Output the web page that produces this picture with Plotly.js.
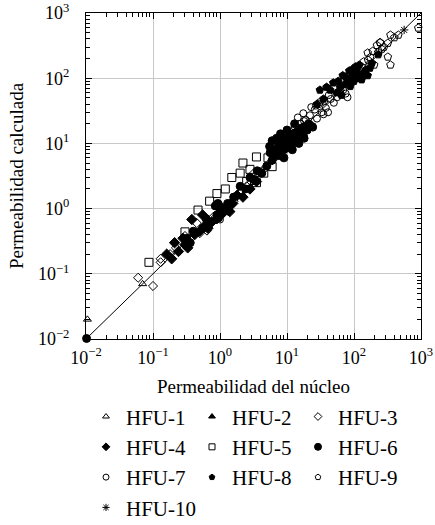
<!DOCTYPE html>
<html>
<head>
<meta charset="utf-8">
<script src="https://cdn.plot.ly/plotly-3.0.1.min.js"></script>
<style>html,body{margin:0;padding:0;background:#fff;}</style>
</head>
<body>
<div id="chart" style="width:435px;height:525px;"></div>
<script>
// ---- data ----
const tickVals = [0.01, 0.1, 1, 10, 100, 1000];
const tickText = ['10<sup>−2</sup>', '10<sup>−1</sup>', '10<sup>0</sup>', '10<sup>1</sup>', '10<sup>2</sup>', '10<sup>3</sup>'];
const minorTickVals = [0.02,0.03,0.04,0.05,0.06,0.07,0.08,0.09,
                       0.2,0.3,0.4,0.5,0.6,0.7,0.8,0.9,
                       2,3,4,5,6,7,8,9,
                       20,30,40,50,60,70,80,90,
                       200,300,400,500,600,700,800,900];
const xTitle = 'Permeabilidad del núcleo';
const yTitle = 'Permeabilidad calculada';
const lineX = [0.01, 1000];
const lineY = [0.01, 1000];

const seriesNames = ['HFU-1','HFU-2','HFU-3','HFU-4','HFU-5','HFU-6','HFU-7','HFU-8','HFU-9','HFU-10'];

const hfu1X = [0.0105, 0.07];
const hfu1Y = [0.02, 0.07];

const hfu2X = [6.5, 9, 12];
const hfu2Y = [7.5, 9.5, 11];

const hfu3X = [0.06, 0.1, 0.13, 0.13, 0.18, 0.22, 0.3, 0.45, 0.5, 0.64, 0.8, 1.2, 1.6, 2.5, 3.2, 4.5, 6];
const hfu3Y = [0.087, 0.065, 0.17, 0.15, 0.2, 0.25, 0.38, 0.6, 0.42, 0.46, 0.75, 1.0, 1.3, 2.2, 3.5, 4.0, 5.5];

const hfu4X = [0.16, 0.19, 0.21, 0.24, 0.28, 0.3, 0.33, 0.38, 0.42, 0.5, 0.55, 0.6, 0.66, 0.75, 0.9, 1.0, 1.1, 1.3, 1.4, 1.55, 1.8, 2.2, 2.8, 3.5];
const hfu4Y = [0.2, 0.17, 0.3, 0.22, 0.35, 0.28, 0.25, 0.68, 0.4, 0.45, 0.8, 0.55, 0.5, 0.62, 0.7, 1.1, 0.85, 0.95, 0.9, 1.2, 1.6, 1.5, 2.0, 2.6];

const hfu5X = [0.087, 0.3, 0.47, 0.7, 0.9, 1.2, 1.5, 2.0, 2.2, 2.5, 2.8, 3.3, 3.5, 3.5, 4.5, 5.2, 6];
const hfu5Y = [0.15, 0.44, 0.95, 1.3, 1.7, 2.0, 3.0, 3.5, 5.0, 2.6, 4.0, 2.7, 6.2, 2.5, 3.5, 6.0, 4.4];

const hfu6X = [0.0102, 0.32, 0.36, 0.4, 0.55, 0.62, 0.85, 0.9, 0.93, 0.95, 1.0, 1.05, 1.3, 1.6, 2.0, 2.4, 2.8, 3.2, 3.6, 4.2, 5.0, 5.5, 5.6, 6.0, 6.0, 6.5, 6.8, 7.0, 7.0, 7.5, 7.8, 8.0, 8.0, 8.5, 8.8, 9.0, 9.0, 9.5, 9.8, 10, 10, 10.5, 11, 11.5, 12, 12, 12.5, 13, 13, 13.5, 14, 15, 15, 15.5, 16, 17, 17.5, 18, 18, 19, 20, 21, 22, 24];
const hfu6Y = [0.0102, 0.35, 0.3, 0.45, 0.5, 0.7, 1.1, 0.8, 1.2, 0.72, 0.9, 1.0, 1.2, 1.5, 2.2, 2.0, 3.0, 2.8, 3.8, 3.5, 4.5, 9, 7.2, 5.5, 11, 8.0, 7.5, 6.5, 12, 9.5, 6.5, 7.0, 14, 10.5, 10, 8.0, 6, 12, 8.5, 9.5, 16, 11, 13, 12, 10, 8, 14, 12, 20, 11, 15, 13, 10, 14, 17, 15, 13, 18, 12, 17, 16, 20, 19, 18];

const hfu7X = [1.0, 9, 11, 12, 13, 14.5, 15, 16, 17.5, 18, 19, 20, 22, 23, 24.5, 26, 27, 28, 30, 31, 33, 35, 36, 38, 41, 42, 45, 50, 56, 60, 63, 69, 75, 80];
const hfu7Y = [0.68, 11, 14, 10, 18, 25, 15, 20, 29, 22, 23, 17, 27, 36, 17.5, 33, 38, 24, 40, 43, 30, 28, 45, 35, 30, 55, 48, 42, 51, 60, 66, 66, 58, 51];

const hfu8X = [28, 31, 35, 39, 44, 49, 55, 58, 62, 65, 68, 72, 75, 80, 85, 88, 90, 95, 98, 100, 105, 108, 110, 115, 120, 125, 130, 140, 150, 160, 173, 185, 230];
const hfu8Y = [40, 66, 48, 73, 66, 85, 60, 90, 73, 55, 110, 80, 105, 93, 130, 75, 100, 120, 140, 90, 150, 120, 134, 105, 160, 100, 95, 120, 134, 110, 143, 170, 230];

const hfu9X = [100, 120, 130, 140, 160, 162, 175, 190, 200, 220, 230, 245, 245, 260, 280, 320, 320, 350, 350, 400, 460, 910];
const hfu9Y = [110, 100, 150, 180, 245, 190, 210, 260, 160, 320, 250, 350, 355, 280, 300, 212, 345, 460, 160, 420, 460, 590];

const hfu10X = [560];
const hfu10Y = [550];

// ---- chart ----
const serif = 'Liberation Serif, Times New Roman, serif';
const xs = [hfu1X, hfu2X, hfu3X, hfu4X, hfu5X, hfu6X, hfu7X, hfu8X, hfu9X, hfu10X];
const ys = [hfu1Y, hfu2Y, hfu3Y, hfu4Y, hfu5Y, hfu6Y, hfu7Y, hfu8Y, hfu9Y, hfu10Y];
const symbols = ['triangle-up-open', 'triangle-up', 'diamond-open', 'diamond', 'square-open', 'circle', 'circle-open', 'pentagon', 'pentagon-open', 'asterisk-open'];
const sizes = [7, 7, 7, 8, 8, 8, 7, 8, 8, 7];
const legendSizes = [6, 6, 6, 6, 6, 7, 6, 6, 6, 6];

const traces = [];
seriesNames.forEach((name, i) => {
  traces.push({
    type: 'scatter', mode: 'markers', name: name, showlegend: false,
    x: xs[i], y: ys[i], cliponaxis: false,
    marker: {symbol: symbols[i], size: sizes[i], color: 'black', line: {color: 'black', width: 1}}
  });
});
// legend entries (smaller legend markers, as in the reference)
seriesNames.forEach((name, i) => {
  traces.push({
    type: 'scatter', mode: 'markers', name: name, showlegend: true,
    x: [null], y: [null],
    marker: {symbol: symbols[i], size: legendSizes[i], color: 'black', line: {color: 'black', width: 1}}
  });
});
traces.push({
  type: 'scatter', mode: 'lines', x: lineX, y: lineY, showlegend: false,
  line: {color: 'black', width: 1}, hoverinfo: 'skip'
});

function axis(title, standoff, labelStandoff) {
  return {
    type: 'log', range: [-2, 3], tickmode: 'array', tickvals: tickVals, ticktext: tickText,
    ticks: 'inside', ticklen: 6, tickcolor: 'black', tickwidth: 1,
    ticklabelstandoff: labelStandoff,
    showline: true, linecolor: 'black', linewidth: 1, mirror: 'ticks',
    showgrid: true, gridcolor: '#c8c8c8', gridwidth: 1, zeroline: false,
    minor: {ticks: 'inside', ticklen: 4, tickcolor: 'black', tickwidth: 1,
            tickmode: 'array', tickvals: minorTickVals, showgrid: false},
    tickfont: {family: serif, size: 18, color: 'black'},
    title: {text: title, font: {family: serif, size: 19, color: 'black'}, standoff: standoff}
  };
}

const layout = {
  width: 435, height: 525,
  margin: {l: 86, r: 14, t: 13, b: 186, autoexpand: false},
  paper_bgcolor: 'white', plot_bgcolor: 'white',
  xaxis: axis(xTitle, 13, 2),
  yaxis: axis(yTitle, 9, 12),
  showlegend: true,
  legend: {
    orientation: 'h', x: 0, xanchor: 'left', y: -0.176, yanchor: 'top',
    entrywidth: 61, entrywidthmode: 'pixels', traceorder: 'normal',
    font: {family: serif, size: 21, color: 'black'},
    itemsizing: 'trace', bgcolor: 'rgba(0,0,0,0)'
  },
  font: {family: serif, color: 'black'}
};

Plotly.newPlot('chart', traces, layout, {displayModeBar: false, staticPlot: true});
</script>
</body>
</html>
